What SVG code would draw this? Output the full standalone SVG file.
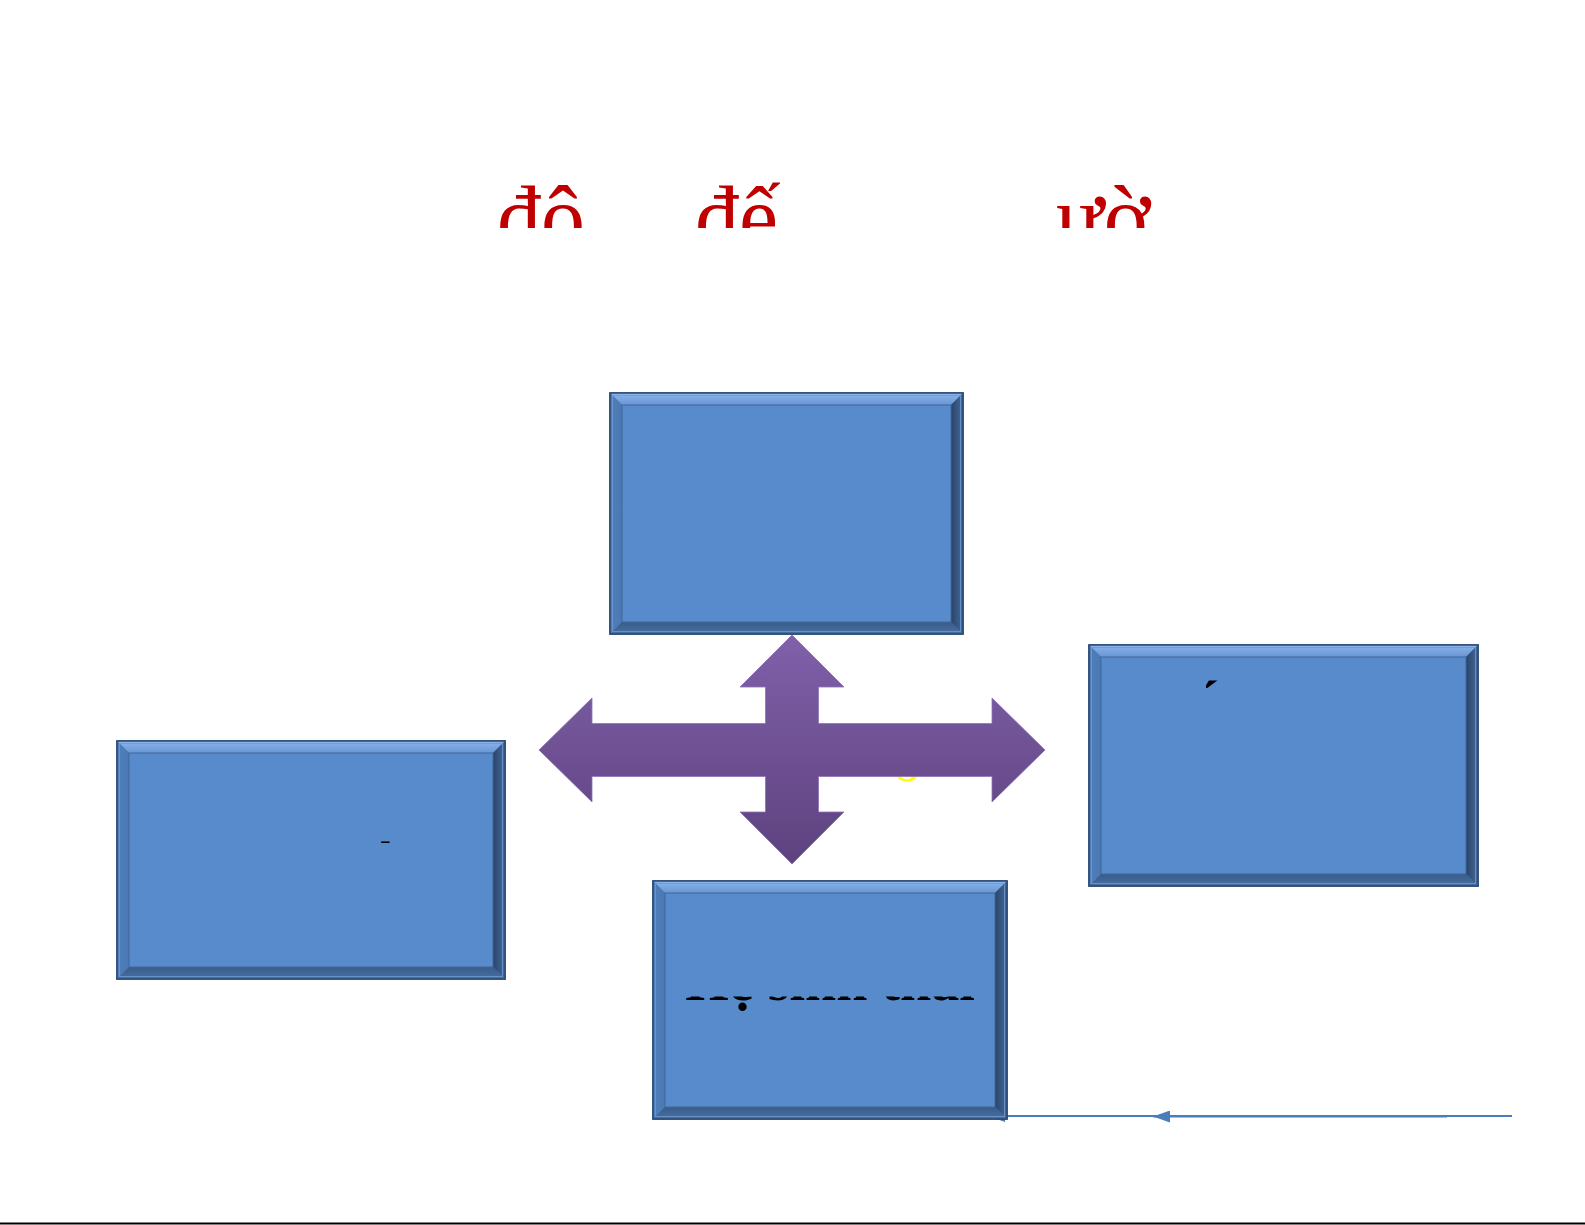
<svg xmlns="http://www.w3.org/2000/svg" width="1585" height="1225" viewBox="0 0 1585 1225">
<style>
.title{font-family:"Liberation Serif","Times New Roman",serif;font-size:88px;fill:#C00000}
.lbl{font-family:"Liberation Serif","Times New Roman",serif;font-weight:bold;fill:#000}
.outer{fill:#4A78B2;stroke:#2C4A72;stroke-width:1.5}
.bt{fill:url(#gTop)}
.bl{fill:url(#gLeft)}
.br{fill:url(#gRight)}
.bb{fill:url(#gBottom)}
.face{fill:#578BCB;stroke:#3E679C;stroke-width:1}
.rim{fill:none;stroke:#6F9BD3;stroke-width:1;opacity:0.8}
.edge{fill:none;stroke:#2C4A72;stroke-width:1.5}
.conn{stroke:#4A7EBB;stroke-width:2;fill:none}
</style>
<defs>
<linearGradient id="gTop" x1="0" y1="0" x2="0" y2="1"><stop offset="0" stop-color="#8BB5EC"/><stop offset="1" stop-color="#6896D4"/></linearGradient>
<linearGradient id="gLeft" x1="0" y1="0" x2="1" y2="0"><stop offset="0" stop-color="#4F7FBC"/><stop offset="1" stop-color="#4A78B2"/></linearGradient>
<linearGradient id="gRight" x1="0" y1="0" x2="1" y2="0"><stop offset="0" stop-color="#2A4468"/><stop offset="1" stop-color="#44699C"/></linearGradient>
<linearGradient id="gBottom" x1="0" y1="0" x2="0" y2="1"><stop offset="0" stop-color="#3A5C88"/><stop offset="1" stop-color="#4670A4"/></linearGradient>
<linearGradient id="gArrow" x1="0" y1="0" x2="0" y2="1"><stop offset="0" stop-color="#8060AA"/><stop offset="1" stop-color="#5E427E"/></linearGradient>
<clipPath id="cTitle"><rect x="0" y="0" width="1585" height="228"/></clipPath>
<clipPath id="cBottom"><rect x="664" y="996.5" width="332" height="20"/></clipPath>
<clipPath id="cRight"><rect x="1206" y="680.5" width="16" height="8"/></clipPath>
<clipPath id="cLeft"><rect x="376" y="841.3" width="16" height="1.6"/></clipPath>
<clipPath id="cYellow"><rect x="880" y="776.5" width="50" height="12"/></clipPath>
<marker id="arr" markerUnits="userSpaceOnUse" markerWidth="18" markerHeight="12" refX="17" refY="6" orient="auto"><path d="M0,0 L17,6 L0,12 Z" fill="#4A7EBB"/></marker>
</defs>
<rect width="1585" height="1225" fill="#FFFFFF"/>

<g id="title" clip-path="url(#cTitle)">
<text class="title" x="497" y="247">đô</text>
<text class="title" x="695" y="247">đế</text>
<text class="title" x="1056" y="247">ườ</text>
</g>

<g id="connectors">
<line class="conn" x1="1512" y1="1116" x2="988" y2="1116" marker-end="url(#arr)"/>
<line class="conn" x1="1447" y1="1116.5" x2="1153" y2="1116.5" marker-end="url(#arr)"/>
</g>

<g id="node-top">
<rect class="outer" x="610" y="393" width="353" height="241"/>
<polygon class="bt" points="610,393 963,393 951,405 622,405"/>
<polygon class="bl" points="610,393 622,405 622,622 610,634"/>
<polygon class="br" points="963,393 963,634 951,622 951,405"/>
<polygon class="bb" points="610,634 622,622 951,622 963,634"/>
<rect class="face" x="622" y="405" width="329" height="217"/>
<rect class="rim" x="612.5" y="395.5" width="348" height="236"/>
<rect class="edge" x="610" y="393" width="353" height="241"/>
</g>

<g id="node-right">
<rect class="outer" x="1089" y="645" width="389" height="241"/>
<polygon class="bt" points="1089,645 1478,645 1466,657 1101,657"/>
<polygon class="bl" points="1089,645 1101,657 1101,874 1089,886"/>
<polygon class="br" points="1478,645 1478,886 1466,874 1466,657"/>
<polygon class="bb" points="1089,886 1101,874 1466,874 1478,886"/>
<rect class="face" x="1101" y="657" width="365" height="217"/>
<rect class="rim" x="1091.5" y="647.5" width="384" height="236"/>
<rect class="edge" x="1089" y="645" width="389" height="241"/>
<text class="lbl" x="1201" y="719" font-size="56" clip-path="url(#cRight)">´</text>
</g>

<g id="node-left">
<rect class="outer" x="117" y="741" width="388" height="238"/>
<polygon class="bt" points="117,741 505,741 493,753 129,753"/>
<polygon class="bl" points="117,741 129,753 129,967 117,979"/>
<polygon class="br" points="505,741 505,979 493,967 493,753"/>
<polygon class="bb" points="117,979 129,967 493,967 505,979"/>
<rect class="face" x="129" y="753" width="364" height="214"/>
<rect class="rim" x="119.5" y="743.5" width="383" height="233"/>
<rect class="edge" x="117" y="741" width="388" height="238"/>
<text class="lbl" x="380" y="850" font-size="32" clip-path="url(#cLeft)">-</text>
</g>

<g id="node-bottom">
<rect class="outer" x="653" y="881" width="354" height="238"/>
<polygon class="bt" points="653,881 1007,881 995,893 665,893"/>
<polygon class="bl" points="653,881 665,893 665,1107 653,1119"/>
<polygon class="br" points="1007,881 1007,1119 995,1107 995,893"/>
<polygon class="bb" points="653,1119 665,1107 995,1107 1007,1119"/>
<rect class="face" x="665" y="893" width="330" height="214"/>
<rect class="rim" x="655.5" y="883.5" width="349" height="233"/>
<rect class="edge" x="653" y="881" width="354" height="238"/>
<text class="lbl" x="830" y="1000" font-size="56" text-anchor="middle" clip-path="url(#cBottom)">Hệ sinh thái</text>
</g>

<g id="yellow-text" clip-path="url(#cYellow)">
<text x="893" y="781" font-family="Liberation Serif, serif" font-size="56" fill="#FFFF00">o</text>
</g>

<g id="cross-arrow">
<polygon fill="url(#gArrow)" stroke="#8E72B8" stroke-width="0.8" points="792,635 844,687 818.5,687 818.5,723.5 992,723.5 992,698 1045,750 992,802 992,776.5 818.5,776.5 818.5,812 844,812 792,864 740,812 765.5,812 765.5,776.5 592,776.5 592,802 539,750 592,698 592,723.5 765.5,723.5 765.5,687 740,687"/>
</g>

<line x1="0" y1="1223.5" x2="1585" y2="1223.5" stroke="#000" stroke-width="2"/>
</svg>
